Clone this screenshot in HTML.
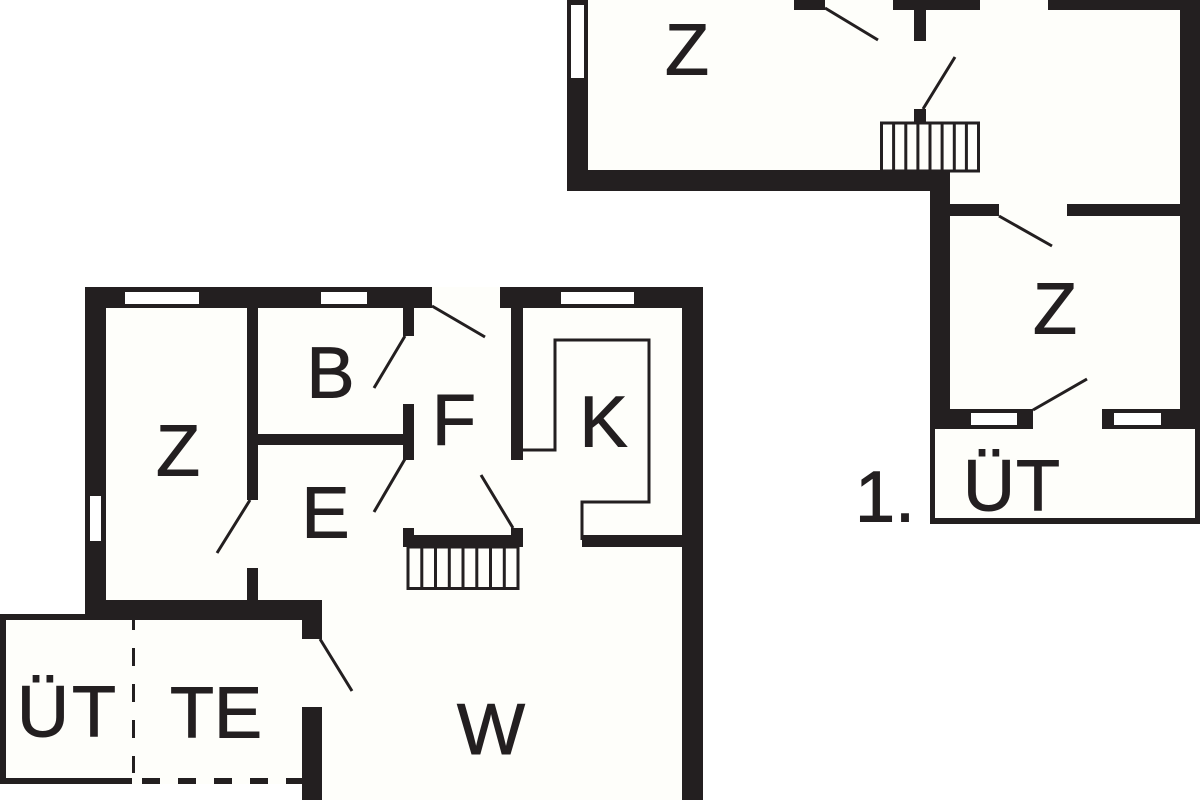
<!DOCTYPE html>
<html><head><meta charset="utf-8"><style>
html,body{margin:0;padding:0;background:#fff}
svg{display:block}
text{font-family:"Liberation Sans",sans-serif;font-size:72px;fill:#231f20;stroke:#231f20;stroke-width:1}
</style></head><body>
<svg width="1200" height="800" viewBox="0 0 1200 800" xmlns="http://www.w3.org/2000/svg">
<rect width="1200" height="800" fill="#fff"/>
<g fill="#fefefa">
<rect x="567" y="0" width="633" height="190"/>
<rect x="930" y="170" width="270" height="354"/>
<rect x="85" y="287" width="618" height="513"/>
<rect x="0" y="614" width="322" height="170"/>
</g>
<rect x="0" y="784" width="302" height="16" fill="#fff"/>
<g fill="#231f20">
<!-- upper right -->
<rect x="567" y="0" width="21" height="190"/>
<rect x="567" y="170" width="383" height="21"/>
<rect x="794" y="0" width="31" height="10"/>
<rect x="893" y="0" width="87" height="10"/>
<rect x="1048" y="0" width="152" height="10"/>
<rect x="1180" y="0" width="20" height="429"/>
<rect x="914" y="10" width="12" height="31"/>
<rect x="914" y="109" width="12" height="14"/>
<rect x="930" y="170" width="20" height="259"/>
<rect x="950" y="204" width="49" height="12"/>
<rect x="1067" y="204" width="113" height="12"/>
<rect x="930" y="409" width="103" height="20"/>
<rect x="1102" y="409" width="98" height="20"/>
<!-- main -->
<rect x="85" y="287" width="347" height="21"/>
<rect x="500" y="287" width="203" height="21"/>
<rect x="85" y="287" width="21" height="333"/>
<rect x="682" y="287" width="21" height="513"/>
<rect x="247" y="308" width="11" height="192"/>
<rect x="247" y="568" width="11" height="32"/>
<rect x="258" y="434" width="150" height="11"/>
<rect x="403" y="308" width="11" height="28"/>
<rect x="403" y="404" width="11" height="56"/>
<rect x="403" y="528" width="11" height="19"/>
<rect x="403" y="535" width="120" height="12"/>
<rect x="511" y="528" width="12" height="19"/>
<rect x="511" y="308" width="12" height="152"/>
<rect x="582" y="535" width="100" height="12"/>
<rect x="85" y="600" width="237" height="20"/>
<rect x="302" y="600" width="20" height="39"/>
<rect x="302" y="707" width="20" height="93"/>
<!-- terrace -->
<rect x="0" y="614" width="85" height="6"/>
<rect x="0" y="614" width="6" height="170"/>
<rect x="0" y="778" width="132" height="6"/>
<rect x="142" y="778" width="18" height="6"/>
<rect x="178" y="778" width="18" height="6"/>
<rect x="214" y="778" width="18" height="6"/>
<rect x="250" y="778" width="18" height="6"/>
<rect x="286" y="778" width="16" height="6"/>
<rect x="132" y="620" width="3" height="10"/>
<rect x="132" y="648" width="3" height="18"/>
<rect x="132" y="684" width="3" height="18"/>
<rect x="132" y="720" width="3" height="18"/>
<rect x="132" y="756" width="3" height="17"/>
<!-- balcony -->
<rect x="930" y="429" width="5" height="95"/>
<rect x="1195" y="429" width="5" height="95"/>
<rect x="930" y="518" width="270" height="6"/>
</g>
<g fill="#fff">
<rect x="571" y="5" width="13" height="73"/>
<rect x="971" y="413" width="46" height="12"/>
<rect x="1114" y="413" width="47" height="12"/>
<rect x="125" y="292" width="74" height="12"/>
<rect x="321" y="292" width="46" height="12"/>
<rect x="561" y="292" width="73" height="12"/>
<rect x="90" y="496" width="11" height="45"/>
</g>
<g stroke="#231f20" stroke-width="3" fill="none">
<path d="M825 8L878 40M923 109L955 57M999 216L1052 246M1033 410L1087 379"/>
<path d="M250 500L217 553M405 336L374 388M405 459L374 512M432 306L485 337M513 528L481 475M320 639L352 691"/>
<path d="M523 450H555V340H649V502H582V540"/>
<rect x="881.5" y="123" width="97" height="48"/>
<path d="M893.6 123V171M905.8 123V171M917.9 123V171M930 123V171M942.1 123V171M954.3 123V171M966.4 123V171"/>
<rect x="408" y="547" width="110" height="41.5"/>
<path d="M421.8 547V588M435.5 547V588M449.3 547V588M463 547V588M476.8 547V588M490.5 547V588M504.3 547V588"/>
</g>
<text x="665" y="74.5">Z</text>
<text x="1033" y="333.5">Z</text>
<text x="156" y="475.5">Z</text>
<text x="306.5" y="397.5">B</text>
<text x="301.5" y="537.5">E</text>
<text x="432" y="444.5">F</text>
<text x="579.5" y="446.5">K</text>
<text x="963" y="510.5">Ü</text><text x="1016" y="510.5">T</text>
<text x="855" y="521.5">1.</text>
<text x="17" y="736.5">Ü</text><text x="72" y="736.5">T</text>
<text x="170" y="737.5">T</text><text x="214" y="737.5">E</text>
<text x="457" y="754">W</text>
</svg>
</body></html>
